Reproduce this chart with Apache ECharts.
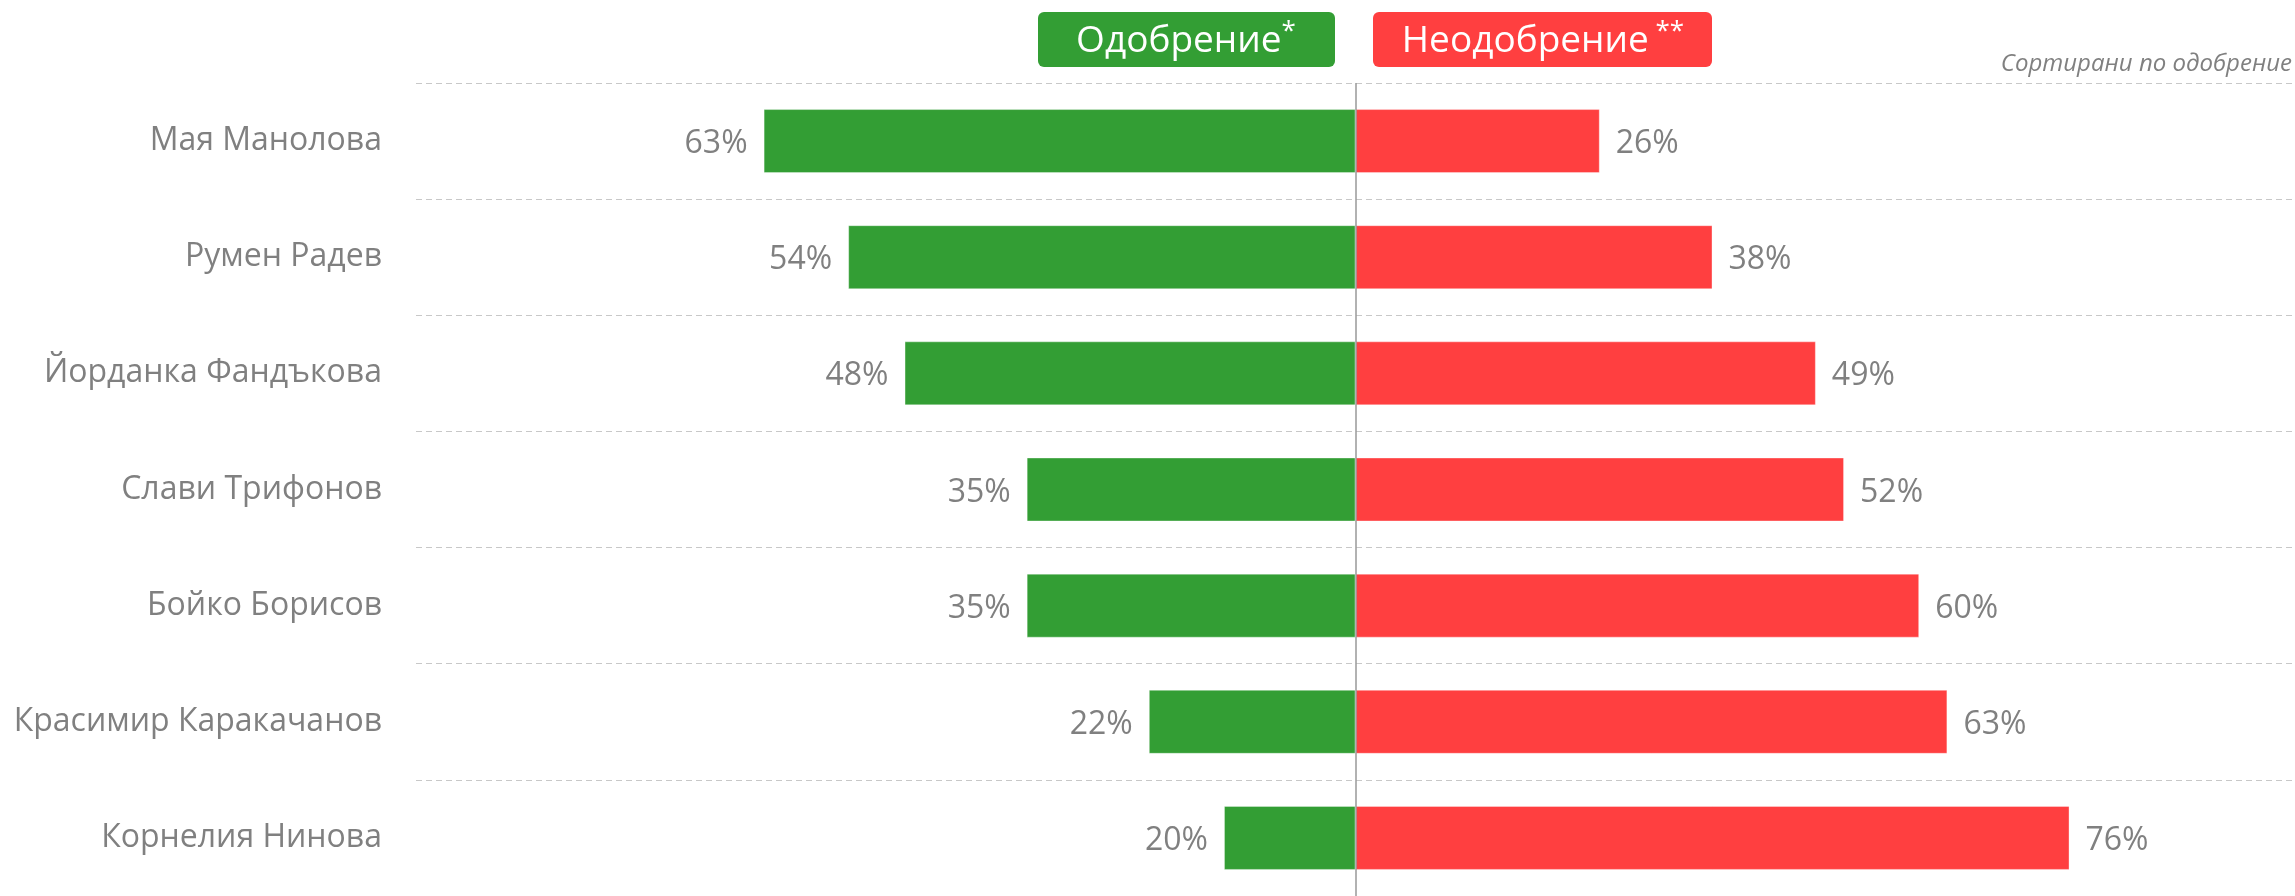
<!DOCTYPE html>
<html>
<head>
<meta charset="utf-8">
<script src="https://cdn.jsdelivr.net/npm/echarts@6/dist/echarts.min.js"></script>
<style>
  html, body { margin: 0; padding: 0; background: #fff; }
  #chart { width: 2295px; height: 896px; }
</style>
</head>
<body>
<div id="chart"></div>
<script>
// политици, подредени по одобрение
var names = ['Мая Манолова', 'Румен Радев', 'Йорданка Фандъкова', 'Слави Трифонов',
  'Бойко Борисов', 'Красимир Каракачанов', 'Корнелия Нинова'];
// дължина на зелените ленти (както са начертани)
var approveBar = [63, 54, 48, 35, 35, 22, 14];
// надписи на зелените ленти
var approveLabel = [63, 54, 48, 35, 35, 22, 20];
var disapprove = [26, 38, 49, 52, 60, 63, 76];

var GREEN = '#339e34';
var RED = '#ff3f40';
var TEXT = '#808080';
var FONT = '"Open Sans", "Noto Sans", sans-serif';

var myCharts = echarts.init(document.getElementById('chart'));

var option = {
    animation: false,
    textStyle: { fontFamily: FONT },
    grid: {
        left: 416,
        right: 0,
        top: 83,
        bottom: 0,
        containLabel: false
    },
    xAxis: {
        type: 'value',
        min: -100,
        max: 100,
        show: false
    },
    yAxis: {
        type: 'category',
        inverse: true,
        data: names,
        axisLine: { show: false },
        axisTick: { show: false },
        axisLabel: {
            margin: 34,
            color: TEXT,
            fontSize: 32,
            fontFamily: FONT,
            padding: [4, 0, 0, 0]
        },
        splitLine: {
            show: true,
            lineStyle: {
                color: '#c8c8c8',
                type: [6, 4],
                width: 1
            }
        }
    },
    graphic: [
        {
            type: 'group',
            left: 1038,
            top: 12,
            children: [
                {
                    type: 'rect',
                    shape: { x: 0, y: 0, width: 297, height: 55, r: 6 },
                    style: { fill: GREEN }
                },
                {
                    type: 'text',
                    x: 148,
                    y: 29,
                    style: {
                        text: '{a|Одобрение}{s|*}',
                        align: 'center',
                        verticalAlign: 'middle',
                        fill: '#fff',
                        rich: {
                            a: { fontSize: 37, lineHeight: 44, fill: '#fff', fontFamily: FONT },
                            s: { fontSize: 26, lineHeight: 44, fill: '#fff', fontFamily: FONT, verticalAlign: 'top', padding: [0, 0, 16, 0] }
                        }
                    }
                }
            ]
        },
        {
            type: 'group',
            left: 1373,
            top: 12,
            children: [
                {
                    type: 'rect',
                    shape: { x: 0, y: 0, width: 339, height: 55, r: 6 },
                    style: { fill: RED }
                },
                {
                    type: 'text',
                    x: 170,
                    y: 29,
                    style: {
                        text: '{a|Неодобрение}{s| **}',
                        align: 'center',
                        verticalAlign: 'middle',
                        fill: '#fff',
                        rich: {
                            a: { fontSize: 37, lineHeight: 44, fill: '#fff', fontFamily: FONT },
                            s: { fontSize: 26, lineHeight: 44, fill: '#fff', fontFamily: FONT, verticalAlign: 'top', padding: [0, 0, 16, 0] }
                        }
                    }
                }
            ]
        },
        {
            type: 'text',
            right: 3,
            top: 52,
            style: {
                text: 'Сортирани по одобрение',
                fill: TEXT,
                fontSize: 24,
                fontStyle: 'italic',
                fontFamily: FONT
            }
        }
    ],
    series: [
        {
            name: 'Одобрение',
            type: 'bar',
            stack: 'total',
            barWidth: 64,
            data: approveBar.map(function (v) { return -v; }),
            itemStyle: {
                color: GREEN,
                borderColor: 'rgba(255,255,255,0.35)',
                borderWidth: 1
            },
            label: {
                show: true,
                position: 'left',
                distance: 16,
                offset: [0, 3],
                color: TEXT,
                fontSize: 32,
                fontFamily: FONT,
                formatter: function (p) {
                    return approveLabel[p.dataIndex] + '%';
                }
            }
        },
        {
            name: 'Неодобрение',
            type: 'bar',
            stack: 'total',
            barWidth: 64,
            data: disapprove,
            itemStyle: {
                color: RED,
                borderColor: 'rgba(255,255,255,0.35)',
                borderWidth: 1
            },
            label: {
                show: true,
                position: 'right',
                distance: 16,
                offset: [0, 3],
                color: TEXT,
                fontSize: 32,
                fontFamily: FONT,
                formatter: '{c}%'
            },
            markLine: {
                silent: true,
                symbol: 'none',
                label: { show: false },
                lineStyle: { color: '#999', type: 'solid', width: 1.5 },
                data: [{ xAxis: 0 }]
            }
        }
    ]
};
myCharts.setOption(option);
</script>
</body>
</html>
